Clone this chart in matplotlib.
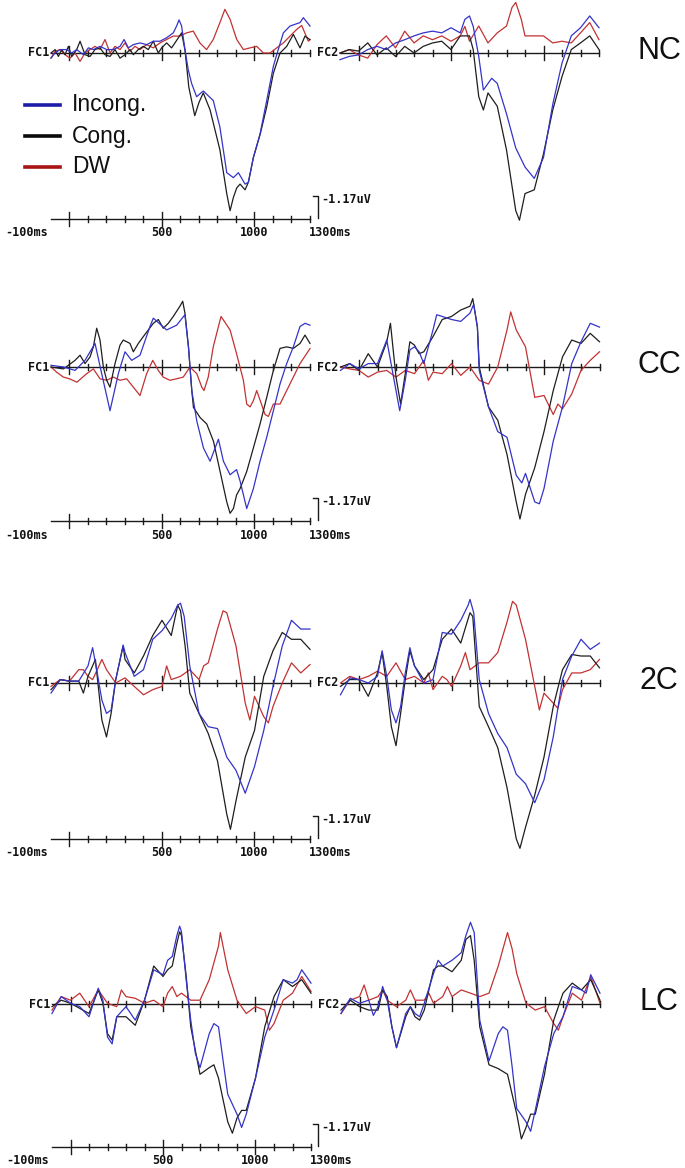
import matplotlib
matplotlib.use('Agg')
import matplotlib.pyplot as plt
from matplotlib.lines import Line2D

# Grand-average ERPs at FC1 / FC2 for the four context conditions
# each series is a list of (time in ms, amplitude in uV)

NC_FC1_INC = [(-100,-0.27),(-78,0),(-51,0.18),(-15,0.18),(12,0),(39,0.18),(75,-0.09),(102,0.27),(129,0.18),(165,0.35),(201,0.18),(237,0.18),(273,0.35),(295,0.71),(318,0.27),(345,0.44),(381,0.53),(417,0.44),(453,0.62),(489,0.62),(525,0.8),(561,1.06),(579,1.42),(592,1.74),(606,1.42),(624,0.18),(642,-0.89),(660,-1.6),(687,-2.3),(723,-2.0),(777,-2.5),(813,-3.9),(850,-6.3),(886,-6.56),(913,-6.3),(949,-6.9),(967,-6.8),(994,-5.5),(1030,-4.26),(1066,-2.5),(1102,-0.7),(1120,-0.09),(1156,1.06),(1192,1.42),(1246,1.6),(1264,1.86),(1300,1.42)]
NC_FC1_CON = [(-100,0),(-78,0.18),(-60,-0.18),(-42,0.18),(-24,-0.09),(-6,0.35),(12,-0.18),(39,0.18),(57,0.62),(84,-0.09),(111,-0.18),(138,0.18),(165,0.27),(192,-0.09),(219,-0.18),(246,0.18),(273,-0.27),(300,-0.09),(327,0.18),(345,-0.09),(372,0.18),(399,0.35),(426,0.18),(453,0.62),(480,0),(498,0.27),(525,0.53),(552,0.27),(570,0.53),(606,1.06),(624,0.18),(645,-1.8),(660,-2.5),(677,-3.3),(700,-2.6),(723,-2.1),(760,-3.0),(813,-5.1),(850,-7.4),(868,-8.3),(886,-7.6),(904,-7.1),(922,-6.9),(949,-7.2),(967,-6.8),(994,-5.5),(1030,-4.3),(1066,-2.84),(1102,-1.06),(1138,0),(1174,0.35),(1210,0.98),(1246,0.27),(1273,0.89),(1300,0.7)]
NC_FC1_DW = [(-100,-0.27),(-78,0.09),(-51,0.18),(-24,-0.09),(3,-0.27),(30,0),(57,-0.44),(84,0),(111,0.18),(138,0.35),(165,0.18),(192,0.71),(219,0),(246,0.35),(273,0.18),(300,0.53),(327,0.09),(354,0.35),(381,0.18),(417,0.44),(453,0.27),(489,0.53),(525,0.71),(561,0.89),(597,0.89),(633,1.06),(669,1.15),(705,0.53),(741,0.18),(777,0.71),(813,1.6),(840,2.3),(868,1.77),(904,0.71),(940,0.18),(976,0.27),(1012,0.35),(1048,0),(1084,0),(1120,0.27),(1156,0.53),(1192,0.89),(1228,1.24),(1255,1.45),(1291,0.62),(1300,0.71)]

NC_FC2_INC = [(-100,-0.35),(-50,-0.18),(0,-0.1),(50,0.18),(100,0.35),(150,0.18),(200,0.53),(250,0.7),(300,0.9),(350,1.06),(400,1.15),(450,1.06),(500,1.33),(550,1.06),(575,1.77),(600,1.95),(620,1.4),(650,-0.18),(675,-1.95),(720,-1.33),(750,-1.6),(800,-3.2),(850,-5.0),(900,-6.0),(950,-6.6),(1000,-5.5),(1050,-2.7),(1100,-0.53),(1150,0.9),(1200,1.33),(1250,1.95),(1300,1.33)]
NC_FC2_CON = [(-100,0),(-50,0.18),(0,0.1),(50,0.53),(100,-0.1),(150,0.27),(200,-0.18),(250,0.35),(300,0),(350,0.35),(400,0.53),(450,0.62),(500,0.18),(550,0.9),(600,0.9),(620,0.18),(650,-2.3),(675,-3.0),(700,-2.1),(750,-2.8),(800,-5.1),(850,-8.3),(870,-8.8),(900,-7.4),(950,-7.2),(1000,-5.3),(1050,-3.0),(1100,-1.24),(1150,0.18),(1200,0.53),(1250,0.9),(1300,0.18)]
NC_FC2_DW = [(-100,0),(-50,0.18),(0,-0.1),(50,-0.27),(100,0.44),(150,0.9),(200,0.27),(250,1.15),(300,0.53),(350,0.9),(400,0.7),(450,0.9),(500,0.62),(550,0.9),(575,1.4),(600,0.62),(650,1.42),(700,0.53),(750,1.06),(800,1.42),(830,2.4),(850,2.66),(880,1.77),(900,0.9),(950,0.9),(1000,0.9),(1050,0.53),(1100,0.62),(1150,0.53),(1200,1.06),(1250,1.6),(1300,0.7)]

CC_FC1_INC = [(-100,0.09),(-33,0),(30,-0.18),(84,0.35),(138,1.24),(174,-0.35),(219,-2.3),(264,-0.35),(300,0.8),(336,0.35),(381,0.62),(435,2.13),(453,2.57),(525,1.95),(579,2.2),(624,2.75),(643,1.06),(661,-1.24),(688,-2.84),(724,-4.26),(760,-4.96),(805,-3.8),(832,-4.96),(868,-5.67),(903,-5.4),(922,-6.0),(958,-7.45),(994,-6.4),(1030,-4.96),(1066,-3.7),(1102,-2.3),(1138,-0.89),(1174,0.18),(1210,1.06),(1246,2.13),(1273,2.3),(1300,2.2)]
CC_FC1_CON = [(-100,0),(-33,-0.1),(30,0.35),(57,0.62),(84,0.18),(111,0.53),(129,1.06),(147,2.04),(165,1.42),(183,0),(201,-0.7),(219,-1.06),(246,0.18),(273,1.15),(291,1.42),(327,1.24),(345,0.8),(372,1.24),(399,1.6),(426,1.95),(453,2.3),(480,2.5),(507,2.04),(534,2.3),(561,2.66),(597,3.2),(612,3.46),(624,2.84),(643,1.06),(661,-1.24),(670,-2.13),(706,-2.66),(742,-3.0),(778,-3.9),(814,-5.5),(850,-7.1),(868,-7.7),(886,-7.45),(903,-6.74),(922,-6.4),(958,-5.5),(994,-4.26),(1030,-3.0),(1066,-1.6),(1102,-0.18),(1138,0.98),(1174,1.06),(1210,0.98),(1246,1.24),(1273,1.68),(1300,1.24)]
CC_FC1_DW = [(-100,0),(-70,-0.27),(-33,-0.53),(0,-0.62),(40,-0.8),(93,-0.35),(129,-0.1),(165,-0.62),(201,-0.7),(237,-0.53),(273,-0.7),(309,-0.62),(345,-1.06),(381,-1.5),(417,-0.35),(450,0.35),(480,-0.18),(507,-0.53),(543,-0.7),(579,-0.62),(615,-0.53),(651,0),(688,-0.35),(715,-1.06),(727,-1.24),(750,-0.53),(777,1.06),(819,2.66),(868,1.95),(903,0.7),(940,-0.7),(958,-1.95),(976,-2.1),(994,-1.77),(1012,-1.24),(1057,-2.5),(1075,-2.6),(1102,-1.95),(1138,-1.95),(1174,-1.24),(1210,-0.53),(1246,0.18),(1300,0.97)]

CC_FC2_INC = [(-100,-0.18),(-50,0.18),(0,-0.1),(50,0.18),(100,0.18),(150,1.42),(200,-1.24),(220,-2.3),(250,-0.7),(275,0.9),(300,1.06),(325,0.8),(350,0.18),(375,1.06),(400,1.95),(420,2.75),(450,2.66),(500,2.5),(550,2.4),(600,2.84),(620,3.3),(640,2.1),(650,-0.18),(700,-2.1),(750,-3.4),(800,-3.7),(850,-5.7),(880,-6.1),(900,-5.6),(950,-7.1),(975,-7.2),(1000,-6.4),(1050,-3.9),(1100,-2.1),(1150,0.18),(1200,1.33),(1250,2.3),(1300,2.1)]
CC_FC2_CON = [(-100,0),(-50,0.18),(0,-0.18),(50,0.7),(100,0),(150,1.33),(170,2.3),(200,-0.53),(225,-1.95),(250,-0.35),(275,1.33),(300,1.15),(325,0.7),(350,0.8),(400,1.6),(450,2.5),(500,2.66),(550,3.0),(600,3.2),(615,3.6),(640,2.1),(650,0),(700,-2.1),(750,-2.8),(800,-4.6),(850,-7.1),(870,-8.0),(900,-6.7),(950,-5.3),(1000,-3.4),(1050,-1.24),(1100,0.53),(1150,1.42),(1200,1.24),(1250,1.77),(1300,1.33)]
CC_FC2_DW = [(-100,0),(-50,-0.1),(0,-0.18),(50,-0.53),(100,-0.27),(150,-0.18),(200,-0.53),(250,-0.18),(300,-0.35),(350,0.35),(375,-0.7),(400,-0.27),(450,-0.35),(500,0.18),(550,-0.44),(600,0),(650,-0.7),(700,-0.9),(750,0),(800,1.95),(820,2.9),(850,1.95),(900,1.06),(950,-1.6),(1000,-1.5),(1050,-2.5),(1075,-1.95),(1100,-2.2),(1150,-1.42),(1200,-0.18),(1250,0.35),(1300,0.8)]

C2_FC1_INC = [(-100,-0.53),(-50,0.18),(0,0.1),(50,0.1),(100,0.9),(125,1.86),(150,0.53),(175,-0.9),(200,-1.6),(225,-1.42),(250,0.18),(290,2.0),(300,1.6),(350,0.35),(400,0.7),(450,2.3),(500,2.75),(550,3.4),(585,4.1),(600,4.2),(620,3.5),(650,0.9),(700,-1.6),(750,-2.3),(800,-2.4),(850,-3.9),(900,-4.6),(950,-5.8),(1000,-4.4),(1050,-2.5),(1100,-0.18),(1150,1.95),(1200,3.3),(1250,2.84),(1300,2.84)]
C2_FC1_CON = [(-100,-0.35),(-50,0.18),(0,0.1),(50,0.1),(75,-0.53),(100,0.35),(140,1.24),(175,-1.95),(200,-2.84),(225,-1.6),(250,0.18),(290,1.95),(300,1.24),(350,0.53),(400,1.42),(450,2.5),(500,3.3),(550,2.5),(585,4.1),(600,3.8),(625,1.95),(650,-0.53),(700,-1.6),(750,-2.66),(800,-4.1),(850,-6.9),(870,-7.7),(900,-6.2),(950,-3.9),(1000,-2.5),(1050,0.35),(1100,1.7),(1150,2.66),(1200,2.3),(1250,2.3),(1300,1.77)]
C2_FC1_DW = [(-100,-0.18),(-50,0.18),(0,0.1),(50,0.7),(75,0.7),(100,0.35),(125,0.18),(150,0.7),(175,1.24),(200,0.7),(250,0),(300,0.27),(350,-0.18),(400,-0.62),(450,-0.35),(500,-0.18),(525,0.9),(550,0.18),(600,0.35),(650,0.7),(700,0.18),(725,0.9),(750,1.06),(800,2.84),(830,3.8),(850,3.7),(900,1.95),(950,-1.06),(975,-1.95),(1000,-0.7),(1050,-1.77),(1075,-2.1),(1100,-1.24),(1150,0),(1200,1.06),(1250,0.53),(1300,0.97)]

C2_FC2_INC = [(-100,-0.62),(-50,0.27),(0,0.18),(50,0),(100,0.35),(125,1.7),(150,0.35),(175,-1.42),(200,-2.1),(225,-1.24),(250,0.53),(275,1.86),(300,0.9),(350,0),(400,0.18),(425,1.42),(450,2.66),(500,2.57),(550,3.3),(590,4.1),(600,4.4),(620,3.7),(650,0.18),(700,-1.6),(750,-2.66),(800,-3.4),(850,-4.8),(900,-5.3),(950,-6.3),(1000,-5.1),(1050,-2.84),(1100,0.18),(1150,1.42),(1200,2.3),(1250,1.77),(1300,2.1)]
C2_FC2_CON = [(-100,-0.18),(-50,0.18),(0,0.18),(50,-0.7),(100,0.53),(125,1.6),(150,-0.18),(175,-2.3),(200,-3.3),(225,-1.6),(250,0.18),(275,1.7),(300,0.9),(350,0.18),(400,0.7),(450,2.3),(500,2.84),(550,2.1),(600,3.7),(615,3.5),(650,-1.24),(700,-2.3),(750,-3.4),(800,-5.5),(850,-8.2),(870,-8.7),(900,-7.6),(950,-5.9),(1000,-3.9),(1050,-1.24),(1100,0.7),(1150,1.5),(1200,1.42),(1250,1.42),(1300,0.8)]
C2_FC2_DW = [(-100,0),(-50,0.35),(0,0.18),(50,0.35),(100,0.62),(150,0.35),(200,1.06),(250,0.18),(300,0.35),(350,0),(375,0.53),(400,-0.35),(450,0.35),(475,0.18),(500,-0.18),(550,0.9),(575,1.6),(600,0.7),(650,1.06),(700,1.06),(750,1.6),(800,3.2),(830,4.3),(850,4.1),(900,2.3),(950,-0.18),(975,-1.42),(1000,-0.53),(1050,-1.06),(1075,-1.33),(1100,-0.35),(1150,0.53),(1200,0.53),(1250,0.7),(1300,1.24)]

LC_FC1_INC = [(-100,-0.5),(-50,0.39),(0,0.04),(50,-0.14),(100,-0.67),(150,0.83),(175,0.2),(200,-1.74),(225,-2.1),(250,-0.67),(300,-0.14),(350,-0.85),(400,0.2),(450,1.8),(500,1.54),(525,2.3),(550,2.5),(575,3.6),(590,4.1),(600,3.8),(625,1.3),(650,-0.85),(675,-2.6),(700,-3.35),(750,-1.56),(775,-1.03),(800,-1.2),(825,-3.0),(850,-4.75),(900,-5.8),(925,-6.5),(950,-5.8),(1000,-3.9),(1050,-1.74),(1100,-0.32),(1150,1.28),(1200,1.1),(1225,1.28),(1250,1.8),(1300,1.1)]
LC_FC1_CON = [(-100,-0.14),(-50,0.2),(0,0.04),(50,-0.23),(100,-0.5),(150,0.74),(175,0.04),(200,-1.56),(225,-1.9),(250,-0.67),(300,-0.67),(350,-1.12),(400,0.2),(450,2.0),(500,1.45),(525,1.8),(550,2.0),(575,3.2),(590,3.8),(600,3.6),(625,1.5),(650,-1.2),(700,-3.7),(750,-3.35),(775,-3.2),(800,-3.9),(850,-6.2),(875,-6.8),(900,-6.0),(925,-5.6),(950,-5.6),(1000,-3.9),(1050,-1.2),(1100,0.39),(1150,1.28),(1200,0.92),(1250,1.28),(1300,0.57)]
LC_FC1_DW = [(-100,-0.32),(-50,0.39),(0,0.2),(50,0.57),(100,-0.14),(150,0.74),(200,0.04),(250,-0.14),(275,0.74),(300,0.39),(350,0.3),(400,0.04),(450,0.2),(500,-0.14),(525,0.57),(550,0.92),(575,0.39),(600,0.57),(650,0.2),(700,0.2),(750,1.28),(800,3.05),(810,3.76),(850,1.8),(900,0.2),(950,-0.5),(1000,-0.14),(1050,-0.32),(1075,-1.38),(1100,-1.03),(1150,0.2),(1200,0.57),(1250,1.45),(1300,0.66)]

LC_FC2_INC = [(-100,-0.5),(-50,0.3),(0,0.04),(50,0.2),(75,-0.6),(100,-0.14),(125,0.92),(150,0.2),(175,-1.2),(200,-2.3),(250,-0.5),(275,-0.14),(300,-0.5),(325,-0.67),(350,0.04),(400,1.6),(425,2.3),(450,2.0),(500,2.3),(525,2.5),(550,2.7),(575,3.6),(600,4.3),(620,3.76),(650,-0.85),(700,-3.0),(750,-1.56),(775,-1.2),(800,-1.38),(825,-3.3),(850,-5.5),(900,-6.2),(925,-6.7),(950,-5.6),(1000,-3.3),(1050,-1.56),(1100,-0.67),(1150,0.92),(1200,0.74),(1225,0.57),(1250,1.54),(1300,0.57)]
LC_FC2_CON = [(-100,-0.32),(-50,0.2),(0,-0.14),(50,-0.32),(100,-0.32),(125,0.74),(150,0.39),(175,-1.2),(200,-2.3),(250,-0.67),(275,-0.14),(300,-0.67),(325,-0.85),(350,-0.32),(400,1.8),(425,2.0),(450,2.0),(500,1.7),(525,2.0),(550,2.3),(575,3.4),(600,3.6),(620,2.3),(650,-1.2),(700,-3.2),(750,-3.4),(800,-3.7),(850,-5.8),(875,-7.1),(900,-6.5),(925,-5.8),(950,-5.8),(1000,-3.7),(1050,-0.85),(1100,0.57),(1150,1.1),(1200,0.74),(1250,1.28),(1300,0.2)]
LC_FC2_DW = [(-100,-0.5),(-50,0.2),(0,0.39),(25,1.0),(50,0.2),(100,0.39),(125,0.74),(150,0.2),(200,-0.14),(250,0.2),(275,0.74),(300,0.2),(350,0.2),(375,0.57),(400,0.04),(450,0.39),(475,0.92),(500,0.39),(550,0.74),(600,0.57),(650,0.39),(700,0.57),(750,2.0),(800,3.76),(825,2.9),(850,1.6),(900,0.04),(950,-0.32),(1000,-0.14),(1050,-1.03),(1075,-1.38),(1100,-0.67),(1150,0.57),(1200,0.2),(1250,1.45),(1300,0.04)]

CONDITIONS = ['NC', 'CC', '2C', 'LC']
ELECTRODES = ['FC1', 'FC2']
LEGEND_LABELS = ['Incong.', 'Cong.', 'DW']
TICK_LABELS = {-100: '-100ms', 500: '500', 1000: '1000', 1300: '1300ms'}
SCALE_UV = 1.17

DATA = {
    'NC': {'FC1': (NC_FC1_INC, NC_FC1_CON, NC_FC1_DW), 'FC2': (NC_FC2_INC, NC_FC2_CON, NC_FC2_DW)},
    'CC': {'FC1': (CC_FC1_INC, CC_FC1_CON, CC_FC1_DW), 'FC2': (CC_FC2_INC, CC_FC2_CON, CC_FC2_DW)},
    '2C': {'FC1': (C2_FC1_INC, C2_FC1_CON, C2_FC1_DW), 'FC2': (C2_FC2_INC, C2_FC2_CON, C2_FC2_DW)},
    'LC': {'FC1': (LC_FC1_INC, LC_FC1_CON, LC_FC1_DW), 'FC2': (LC_FC2_INC, LC_FC2_CON, LC_FC2_DW)},
}

# layout (pixels of the 685x1168 picture)
W, H = 685, 1168
PX_PER_MS = 0.185
PX_PER_UV = 19.0
BASE_PX = [53, 367, 683, 1004]      # zero line of each row
AXIS_PX = [219, 521, 839, 1147]     # time axis of each row
ZERO_L = [69.5, 69.5, 69.5, 70.5]   # x of 0 ms, FC1 panel
ZERO_R = [358.5, 359, 359, 359.5]   # x of 0 ms, FC2 panel

CURVE_COLORS = ['#3434c8', '#1e1e1e', '#c23232']
DRAW_ORDER = [2, 1, 0]
LEGEND_COLORS = ['#1c1ca8', '#0a0a0a', '#a81414']
AX_COLOR = '#1a1a1a'
MONO = dict(family='DejaVu Sans Mono', weight='bold', fontsize=8.5, color='#111111')

fig = plt.figure(figsize=(W / 100, H / 100), dpi=100)


def new_ax(zero_x, base_y):
    ax = fig.add_axes([0, 0, 1, 1])
    ax.set_xlim(-zero_x / PX_PER_MS, (W - zero_x) / PX_PER_MS)
    ax.set_ylim(-(H - base_y) / PX_PER_UV, base_y / PX_PER_UV)
    ax.axis('off')
    return ax


def time_line(ax, y):
    ax.plot([-100, 1300], [y, y], color=AX_COLOR, lw=1)
    for t in range(0, 1301, 100):
        half = (7 if t in (0, 500, 1000) else 3) / PX_PER_UV
        ax.plot([t, t], [y - half, y + half], color=AX_COLOR, lw=1)


for i, cond in enumerate(CONDITIONS):
    for elec, zero in zip(ELECTRODES, (ZERO_L[i], ZERO_R[i])):
        ax = new_ax(zero, BASE_PX[i])
        time_line(ax, 0)
        ax.text(-110, 0, elec, ha='right', va='center', **MONO)
        series = DATA[cond][elec]
        for k in DRAW_ORDER:
            t, v = zip(*series[k])
            ax.plot(t, v, color=CURVE_COLORS[k], lw=0.9)

        if elec == 'FC1':
            y_ax = -(AXIS_PX[i] - BASE_PX[i]) / PX_PER_UV
            time_line(ax, y_ax)
            y_lab = y_ax - 14 / PX_PER_UV
            for t, lab in TICK_LABELS.items():
                if t == -100:
                    ax.text(-114, y_lab, lab, ha='right', va='center', **MONO)
                elif t == 1300:
                    ax.text(1292, y_lab, lab, ha='left', va='center', **MONO)
                else:
                    ax.text(t, y_lab, lab, ha='center', va='center', **MONO)
            # amplitude scale bar
            x_sb = (318 - zero) / PX_PER_MS
            y0 = y_ax + 1 / PX_PER_UV
            y1 = y0 + SCALE_UV
            ax.plot([x_sb - 27, x_sb, x_sb], [y1, y1, y0], color=AX_COLOR, lw=1)
            ax.text(x_sb + 20, y1 - 4 / PX_PER_UV, '-%.2fuV' % SCALE_UV,
                    ha='left', va='center', **MONO)

    fig.text(659 / W, 1 - (BASE_PX[i] - 2) / H, cond, ha='center', va='center',
             fontsize=22, family='Liberation Sans', color='#111111')

# legend
for j, (lab, col) in enumerate(zip(LEGEND_LABELS, LEGEND_COLORS)):
    y = 1 - (105 + 31 * j) / H
    fig.add_artist(Line2D([25 / W, 60 / W], [y, y], color=col, lw=2.6,
                          transform=fig.transFigure))
    fig.text(72 / W, y, lab, ha='left', va='center', fontsize=16.5,
             family='Liberation Sans', color='#111111')

fig.savefig('out.png', dpi=100, facecolor='white')
